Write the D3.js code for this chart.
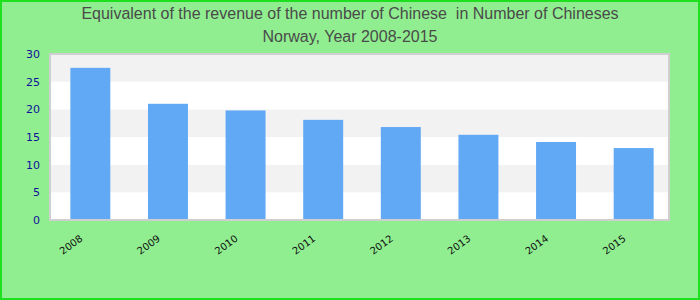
<!DOCTYPE html>
<html>
<head>
<meta charset="utf-8">
<script src="https://cdn.jsdelivr.net/npm/d3@7"></script>
<style>
  html, body { margin: 0; padding: 0; background: #90ee90; }
  svg { display: block; font-family: "Liberation Sans", Arial, sans-serif; }
  .title { white-space: pre; }
</style>
</head>
<body>
<svg id="chart" width="700" height="300"></svg>
<script>
// Chinese population equivalent, Norway 2008-2015
const years = ["2008", "2009", "2010", "2011", "2012", "2013", "2014", "2015"];
const values = [27.5, 21.0, 19.8, 18.1, 16.8, 15.4, 14.1, 13.0];
const yTicks = [0, 5, 10, 15, 20, 25, 30];
const titleLines = [
  "Equivalent of the revenue of the number of Chinese  in Number of Chineses",
  "Norway, Year 2008-2015"
];

const W = 700, H = 300;
const plot = { left: 50, right: 669, top: 54, bottom: 220 };

const svg = d3.select("#chart");

// page background with green frame
svg.append("rect")
  .attr("x", 1).attr("y", 1).attr("width", W - 2).attr("height", H - 2)
  .attr("fill", "#90ee90").attr("stroke", "#1ee01e").attr("stroke-width", 2);

// titles
svg.selectAll("text.title").data(titleLines).enter().append("text")
  .attr("class", "title")
  .attr("x", W / 2)
  .attr("y", (d, i) => 19 + i * 23)
  .attr("text-anchor", "middle")
  .attr("font-size", 16)
  .attr("fill", "#4a4a4a")
  .text(d => d);

const x = d3.scaleBand()
  .domain(years)
  .range([plot.left, plot.right])
  .paddingInner(0.485)
  .paddingOuter(0.23)
  .align(0.57);

const y = d3.scaleLinear()
  .domain([0, 30])
  .range([plot.bottom, plot.top]);

// plot area with alternating stripes
svg.append("rect")
  .attr("x", plot.left).attr("y", plot.top)
  .attr("width", plot.right - plot.left).attr("height", plot.bottom - plot.top)
  .attr("fill", "#ffffff");

const bands = d3.pairs(yTicks);
svg.selectAll("rect.stripe").data(bands).enter().append("rect")
  .attr("class", "stripe")
  .attr("x", plot.left)
  .attr("y", d => y(d[1]))
  .attr("width", plot.right - plot.left)
  .attr("height", d => y(d[0]) - y(d[1]))
  .attr("fill", (d, i) => i % 2 === 1 ? "#f2f2f2" : "#ffffff");

// bars
svg.selectAll("rect.bar").data(values).enter().append("rect")
  .attr("class", "bar")
  .attr("x", (d, i) => x(years[i]))
  .attr("y", d => y(d))
  .attr("width", x.bandwidth())
  .attr("height", d => y(0) - y(d))
  .attr("fill", "#62a9f5");

// plot frame
svg.append("rect")
  .attr("x", plot.left).attr("y", plot.top)
  .attr("width", plot.right - plot.left).attr("height", plot.bottom - plot.top)
  .attr("fill", "none").attr("stroke", "#cfcfcf").attr("stroke-width", 2);

// y axis
const yAxis = d3.axisLeft(y).tickValues(yTicks).tickSize(0).tickPadding(10);
const gy = svg.append("g").attr("transform", `translate(${plot.left},0)`).call(yAxis);
gy.select(".domain").remove();
gy.selectAll("text")
  .attr("font-size", 11)
  .attr("font-family", "\"DejaVu Sans\", sans-serif")
  .attr("fill", "#10109a");

// x axis labels, rotated
const xAxis = d3.axisBottom(x).tickSize(0).tickPadding(0);
const gx = svg.append("g").attr("transform", `translate(0,${plot.bottom})`).call(xAxis);
gx.select(".domain").remove();
gx.selectAll("text")
  .attr("font-size", 10)
  .attr("font-family", "\"DejaVu Sans\", sans-serif")
  .attr("fill", "#111")
  .attr("text-anchor", "end")
  .attr("dy", null)
  .attr("transform", "translate(-7,20) rotate(-36)");
</script>
</body>
</html>
